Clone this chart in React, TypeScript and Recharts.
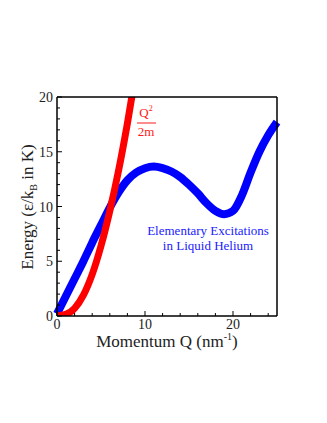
import React from 'react';
import { LineChart, Line, XAxis, YAxis, Customized } from 'recharts';

// Q in nm^-1, energy in K
const excitationQ = [0, 1, 2, 3, 4, 5, 6, 7, 8, 9, 10, 11, 12, 13, 14, 15, 16, 17, 18, 19, 20, 21, 22, 23, 24, 25];
const excitationE = [0.2, 1.8, 3.4, 5.0, 6.7, 8.3, 9.9, 11.3, 12.4, 13.1, 13.5, 13.65, 13.5, 13.2, 12.7, 12.0, 11.2, 10.3, 9.6, 9.3, 9.6, 11.0, 13.1, 15.0, 16.5, 17.7];

const freeQ = [0, 1, 2, 3, 4, 5, 6, 7, 8, 9];
const freeE = [0, 0.15, 0.7, 1.9, 3.8, 6.4, 9.6, 13.3, 17.6, 22.4];

const xTicks = [0, 2, 4, 6, 8, 10, 12, 14, 16, 18, 20, 22, 24];
const xLabels = [0, 10, 20];
const yTicks = [0, 1, 2, 3, 4, 5, 6, 7, 8, 9, 10, 11, 12, 13, 14, 15, 16, 17, 18, 19, 20];
const yLabels = [0, 5, 10, 15, 20];

const excitationData = excitationQ.map((q, i) => ({ q, e: excitationE[i] }));
const freeData = freeQ.map((q, i) => ({ q, e: freeE[i] }));

const FONT = '"Liberation Serif", "Times New Roman", serif';
const serif = { fontFamily: FONT };

const XTick = (props: any) => {
  const { x, y, payload } = props;
  const major = xLabels.includes(payload.value);
  return (
    <g>
      <line x1={x} x2={x} y1={y} y2={y - (major ? 5 : 3)} stroke="#000" strokeWidth={1} />
      {major && (
        <text x={x} y={y + 13} textAnchor="middle" style={serif} fontSize={14} fill="#222">
          {payload.value}
        </text>
      )}
    </g>
  );
};

const YTick = (props: any) => {
  const { x, y, payload } = props;
  const major = yLabels.includes(payload.value);
  return (
    <g>
      <line x1={x} x2={x + (major ? 5 : 3)} y1={y} y2={y} stroke="#000" strokeWidth={1} />
      {major && (
        <text x={x - 4} y={y + 5} textAnchor="end" style={serif} fontSize={14} fill="#222">
          {payload.value}
        </text>
      )}
    </g>
  );
};

const Annotations = () => (
  <g style={serif}>
    <text x={167} y={347} textAnchor="middle" fontSize={17} fill="#222" style={serif}>
      Momentum Q (nm
      <tspan fontSize={10} dy={-7}>-1</tspan>
      <tspan dy={7}>)</tspan>
    </text>
    <text
      transform="translate(33, 207) rotate(-90)"
      textAnchor="middle"
      fontSize={17}
      fill="#222"
      style={serif}
    >
      Energy (ε/k
      <tspan fontSize={10} dy={4}>B</tspan>
      <tspan dy={-4}> in K)</tspan>
    </text>
    <text x={146} y={117} textAnchor="middle" fontSize={13} fill="#ff1a1a" style={serif}>
      Q<tspan fontSize={8} dy={-6}>2</tspan>
    </text>
    <line x1={137} x2={156} y1={123} y2={123} stroke="#ff1a1a" strokeWidth={1} />
    <text x={146} y={136} textAnchor="middle" fontSize={13} fill="#ff1a1a" style={serif}>
      2m
    </text>
    <text x={208} y={235} textAnchor="middle" fontSize={13} fill="#2020ff" style={serif}>
      Elementary Excitations
    </text>
    <text x={208} y={250} textAnchor="middle" fontSize={13} fill="#2020ff" style={serif}>
      in Liquid Helium
    </text>
  </g>
);

export default function App() {
  return (
    <div style={{ position: 'absolute', left: 0, top: 0, background: '#fff' }}>
      <LineChart width={327} height={423} margin={{ top: 96, right: 49, bottom: 106, left: 56 }}>
        <XAxis
          dataKey="q"
          type="number"
          domain={[0, 25]}
          ticks={xTicks}
          interval={0}
          height={1}
          tickSize={0}
          tickMargin={0}
          tickLine={false}
          tick={<XTick />}
          axisLine={{ stroke: '#000', strokeWidth: 1.5 }}
        />
        <XAxis
          xAxisId="top"
          orientation="top"
          type="number"
          domain={[0, 25]}
          height={1}
          tick={false}
          tickLine={false}
          axisLine={{ stroke: '#000', strokeWidth: 1.5 }}
        />
        <YAxis
          type="number"
          domain={[0, 20]}
          allowDataOverflow
          ticks={yTicks}
          interval={0}
          width={1}
          tickSize={0}
          tickMargin={0}
          tickLine={false}
          tick={<YTick />}
          axisLine={{ stroke: '#000', strokeWidth: 1.5 }}
        />
        <YAxis
          yAxisId="right"
          orientation="right"
          type="number"
          domain={[0, 20]}
          width={1}
          tick={false}
          tickLine={false}
          axisLine={{ stroke: '#000', strokeWidth: 1.5 }}
        />
        <Line
          data={excitationData}
          dataKey="e"
          type="monotone"
          stroke="#0000ff"
          strokeWidth={8}
          dot={false}
          isAnimationActive={false}
        />
        <Line
          data={freeData}
          dataKey="e"
          type="monotone"
          stroke="#ff0000"
          strokeWidth={7}
          dot={false}
          isAnimationActive={false}
        />
        <Customized component={Annotations} />
      </LineChart>
    </div>
  );
}
